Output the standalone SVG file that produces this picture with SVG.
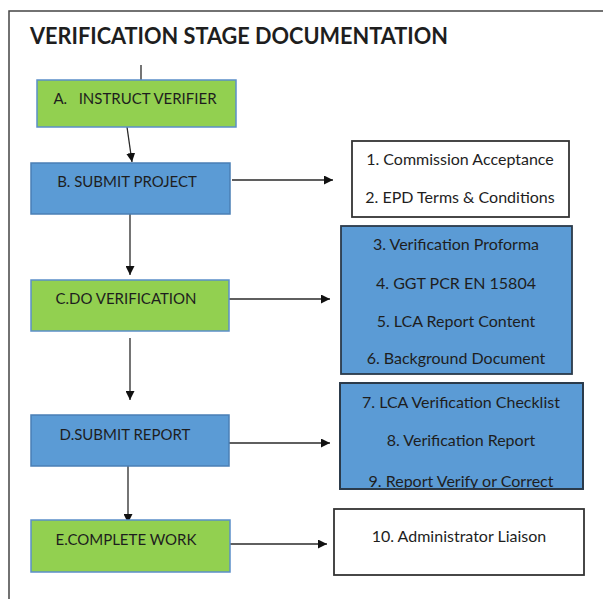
<svg xmlns="http://www.w3.org/2000/svg" width="603" height="599" viewBox="0 0 603 599">
<style>
  text { font-family: Lato, "Open Sans", "Liberation Sans", sans-serif; fill: #1e1e1e; }
  .title { font-size: 22px; font-weight: bold; }
  .lbl { font-size: 15px; text-anchor: middle; }
  .doc { font-size: 16px; text-anchor: middle; }
  .green { fill: #92d050; stroke: #5b8fc9; stroke-width: 1.5; }
  .blue { fill: #5b9bd5; stroke: #4a7fb5; stroke-width: 1.5; }
  .docw { fill: #ffffff; stroke: #333333; stroke-width: 1.8; }
  .docb { fill: #5b9bd5; stroke: #2b3a4a; stroke-width: 1.8; }
  .conn { stroke: #2a2a2a; stroke-width: 1.3; fill: none; }
</style>
<defs>
  <marker id="ah" viewBox="0 0 10 10" refX="10" refY="5" markerWidth="9" markerHeight="9" markerUnits="userSpaceOnUse" orient="auto">
    <path d="M0,0 L10,5 L0,10 z" fill="#111"/>
  </marker>
  <clipPath id="c3"><rect x="340" y="383" width="243" height="105"/></clipPath>
</defs>
<rect x="0" y="0" width="603" height="599" fill="#ffffff"/>
<path d="M9,605 L9,11 L610,11" fill="none" stroke="#444" stroke-width="1.5"/>
<text class="title" x="30" y="44" textLength="418" lengthAdjust="spacingAndGlyphs">VERIFICATION STAGE DOCUMENTATION</text>

<g id="conns">
  <line class="conn" x1="141" y1="65" x2="141" y2="80"/>
  <line class="conn" x1="127" y1="127" x2="132" y2="162" marker-end="url(#ah)"/>
  <line class="conn" x1="232" y1="180" x2="333" y2="180" marker-end="url(#ah)"/>
  <line class="conn" x1="130" y1="214" x2="130" y2="275" marker-end="url(#ah)"/>
  <line class="conn" x1="228" y1="299" x2="330" y2="299" marker-end="url(#ah)"/>
  <line class="conn" x1="130" y1="338" x2="130" y2="400" marker-end="url(#ah)"/>
  <line class="conn" x1="226" y1="443" x2="330" y2="443" marker-end="url(#ah)"/>
  <line class="conn" x1="128" y1="463" x2="128" y2="523" marker-end="url(#ah)"/>
  <line class="conn" x1="225" y1="544" x2="327" y2="544" marker-end="url(#ah)"/>
</g>

<g id="nodeA">
  <rect class="green" x="37" y="80" width="199" height="47"/>
  <text class="lbl" x="135" y="104" xml:space="preserve">A.   INSTRUCT VERIFIER</text>
</g>
<g id="nodeB">
  <rect class="blue" x="31" y="163" width="199" height="51"/>
  <text class="lbl" x="127" y="187">B. SUBMIT PROJECT</text>
</g>
<g id="nodeC">
  <rect class="green" x="31" y="280" width="198" height="51"/>
  <text class="lbl" x="126" y="304">C.DO VERIFICATION</text>
</g>
<g id="nodeD">
  <rect class="blue" x="31" y="415" width="198" height="51"/>
  <text class="lbl" x="125" y="440">D.SUBMIT REPORT</text>
</g>
<g id="nodeE">
  <rect class="green" x="31" y="520" width="199" height="52"/>
  <text class="lbl" x="126" y="545">E.COMPLETE WORK</text>
</g>

<g id="docs1">
  <rect class="docw" x="352" y="141" width="217" height="76"/>
  <text class="doc" x="460" y="165">1. Commission Acceptance</text>
  <text class="doc" x="460" y="203">2. EPD Terms &amp; Conditions</text>
</g>
<g id="docs2">
  <rect class="docb" x="341" y="226" width="231" height="148"/>
  <text class="doc" x="456" y="250">3. Verification Proforma</text>
  <text class="doc" x="456" y="289">4. GGT PCR EN 15804</text>
  <text class="doc" x="456" y="327">5. LCA Report Content</text>
  <text class="doc" x="456" y="364">6. Background Document</text>
</g>
<g id="docs3">
  <rect class="docb" x="340" y="383" width="243" height="106"/>
  <g clip-path="url(#c3)">
    <text class="doc" x="461" y="408">7. LCA Verification Checklist</text>
    <text class="doc" x="461" y="446">8. Verification Report</text>
    <text class="doc" x="461" y="487">9. Report Verify or Correct</text>
  </g>
  <rect x="340" y="383" width="243" height="106" fill="none" stroke="#2b3a4a" stroke-width="1.8"/>
</g>
<g id="docs4">
  <rect class="docw" x="334" y="509" width="250" height="66"/>
  <text class="doc" x="459" y="542">10. Administrator Liaison</text>
</g>
</svg>
